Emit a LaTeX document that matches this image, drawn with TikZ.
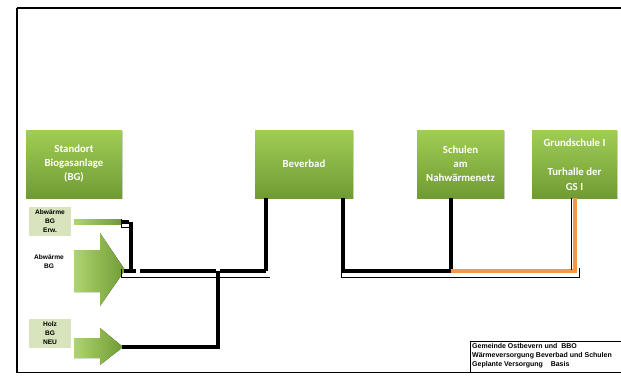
\documentclass[tikz,border=0pt]{standalone}
\usepackage{fontspec}
\setmainfont{Liberation Sans}
\newfontfamily\boxfont{Carlito}
\usetikzlibrary{calc,shadows}
\definecolor{gtop}{RGB}{160,205,85}
\definecolor{gbot}{RGB}{112,155,52}
\definecolor{lblbg}{RGB}{215,228,189}
\definecolor{orng}{RGB}{247,150,70}
\begin{document}
\begin{tikzpicture}[x=1pt,y=-1pt,
  gbox/.style={rectangle, top color=gtop, bottom color=gbot, draw=none,
    text=white, font=\boxfont\bfseries\fontsize{10.8}{14}\selectfont, align=center,
    minimum height=68pt, inner sep=0pt,
    drop shadow={shadow xshift=1.2pt, shadow yshift=-1.2pt, opacity=0.35}},
  lbl/.style={rectangle, fill=lblbg, inner sep=0pt, align=center,
    font=\bfseries\fontsize{6.6}{9}\selectfont, minimum width=42pt},
  garrow/.style={left color=gtop!85!white, right color=gbot, draw=none},
  pipe/.style={line width=3.2pt, black},
  opipe/.style={line width=3.2pt, orng},
  thin/.style={line width=0.6pt, black}
]
\useasboundingbox (0,0) rectangle (621,376);
% outer frame
\draw[line width=2pt] (17,8) -- (640,8);
\draw[line width=2pt] (17,8) -- (17,373);
\draw[line width=1.2pt] (17,372.5) -- (640,372.5);

% boxes
\node[gbox, minimum width=96pt] (bg) at (74,164) {Standort\\Biogasanlage\\(BG)};
\node[gbox, minimum width=98pt] (bev) at (304,164) {Beverbad};
\node[gbox, minimum width=87pt] (sch) at (460.5,164) {Schulen\\am\\Nahwärmenetz};
\node[gbox, minimum width=85pt, anchor=north] (gs) at (574.5,130) {};
\node[text=white, font=\boxfont\bfseries\fontsize{10.8}{14.5}\selectfont, align=center, anchor=north] (gst) at (574.5,135.5) {Grundschule I\\[14.5pt]Turhalle der\\GS I};

% labels
\node[lbl, minimum height=29pt] (lerw) at (50,221.5) {Abwärme\\BG\\Erw.};
\node[font=\bfseries\fontsize{6.6}{9}\selectfont, align=center, inner sep=0pt] (lab) at (49,261.5) {Abwärme\\BG};
\node[lbl, minimum height=29pt] (lholz) at (50,333.5) {Holz\\BG\\NEU};

% arrows
\fill[garrow] (74,219.5) rectangle (121,224.5);
\coordinate (aerw) at (121,222);
\fill[garrow] (74,250) -- (100,250) -- (100,233) -- (125,270) -- (100,306) -- (100,292) -- (74,292) -- cycle;
\coordinate (aab) at (124,271);
\fill[garrow] (74,338) -- (100,338) -- (100,328) -- (123,347) -- (100,365) -- (100,358) -- (74,358) -- cycle;
\coordinate (aholz) at (122,347);

% junction coordinates
\coordinate (jerw) at (131,222);
\coordinate (jmain) at (131,271);
\coordinate (jholz) at (218,271);
\coordinate (jh2) at (218,347);
\coordinate (jbev1) at (266,271);
\coordinate (jbev2) at (343,271);
\coordinate (jsch) at (451,271);
\coordinate (jgs) at (575,271);

% thin brackets under the pipes
\draw[thin] (121,219) -- (121,227.5) -- (131,227.5);
\draw[thin] (121,269) -- (121,277) -- (270,277);
\draw[thin] (341,268) -- (341,277) -- (579,277) -- (579,268);

% black pipes (left net)
\draw[pipe] (aerw) -- ++(8,0);
\draw[pipe] (jerw) -- (jmain);
\draw[pipe] (aab) -- (136,271);
\draw[pipe] (139.5,271) -- (216,271);
\draw[pipe] (220,271) -- (jbev1);
\draw[pipe] (jbev1) -- (jbev1 |- bev.south);
\draw[pipe] (jholz) -- (jh2) -- (aholz);

% right net
\draw[pipe] (jbev2 |- bev.south) -- (jbev2) -- (jsch);
\draw[pipe] (jsch |- sch.south) -- (jsch);
\draw[opipe] (jsch) -- (jgs) -- ($(jgs |- gs.south)$);
\draw[line width=0.8pt] ($(gs.south)+(-3.5,0)$) -- (571,270);

% title block
\draw[line width=0.8pt] (470,372) -- (470,341) -- (640,341);
\node[anchor=north west, inner sep=0pt, align=left, font=\bfseries\fontsize{7}{9}\selectfont] (title) at (472,343)
 {Gemeinde Ostbevern und\ \ BBO\\Wärmeversorgung Beverbad und Schulen\\Geplante Versorgung\ \ \ \ Basis};
\end{tikzpicture}
\end{document}
